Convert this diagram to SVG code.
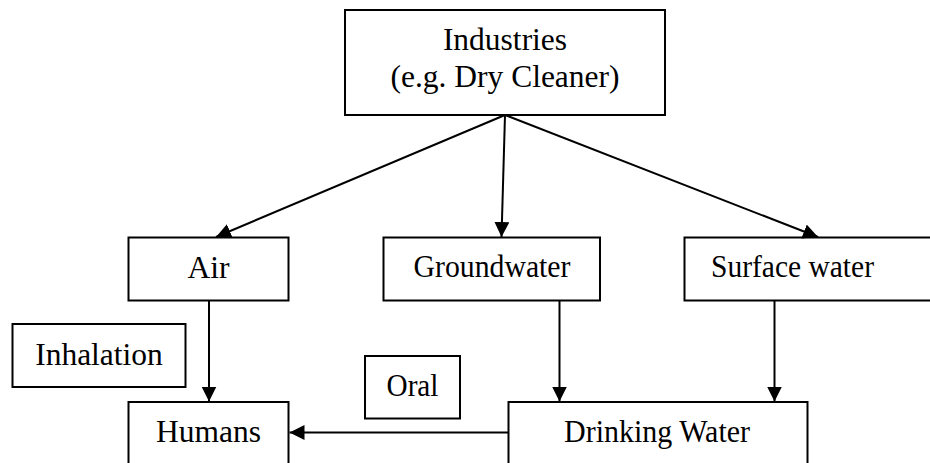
<svg xmlns="http://www.w3.org/2000/svg" width="930" height="463" viewBox="0 0 930 463">
  <style>
    .box { fill: #fff; stroke: #000; stroke-width: 2; }
    .lbl { font-family: "Liberation Serif", "Times New Roman", serif; font-size: 31.5px; fill: #000; text-anchor: middle; }
    .edge { fill: none; stroke: #000; stroke-width: 2; }
  </style>
  <defs>
    <marker id="arrow" markerWidth="15" markerHeight="15" refX="15" refY="7.5" orient="auto" markerUnits="userSpaceOnUse">
      <path d="M0,0 L15,7.5 L0,15 Z" fill="#000"/>
    </marker>
  </defs>
  <rect width="930" height="463" fill="#fff"/>

  <g id="industries">
    <rect class="box" x="345" y="10" width="320" height="105"/>
    <text class="lbl" x="505" y="50">Industries</text>
    <text class="lbl" x="505" y="87">(e.g. Dry Cleaner)</text>
  </g>

  <g id="air">
    <rect class="box" x="128.5" y="237.5" width="160" height="63"/>
    <text class="lbl" x="208.5" y="278">Air</text>
  </g>

  <g id="groundwater">
    <rect class="box" x="383.5" y="237.5" width="216.5" height="63"/>
    <text class="lbl" x="492" y="277" textLength="157" lengthAdjust="spacingAndGlyphs">Groundwater</text>
  </g>

  <g id="surface-water">
    <rect class="box" x="684.5" y="237.5" width="250" height="63"/>
    <text class="lbl" x="792.5" y="277" textLength="163" lengthAdjust="spacingAndGlyphs">Surface water</text>
  </g>

  <g id="inhalation">
    <rect class="box" x="12.5" y="324" width="173" height="63"/>
    <text class="lbl" x="99" y="365">Inhalation</text>
  </g>

  <g id="oral">
    <rect class="box" x="365" y="356" width="95" height="62.5"/>
    <text class="lbl" x="412.5" y="396" textLength="52" lengthAdjust="spacingAndGlyphs">Oral</text>
  </g>

  <g id="humans">
    <rect class="box" x="128.5" y="402" width="160" height="70"/>
    <text class="lbl" x="208.5" y="442">Humans</text>
  </g>

  <g id="drinking-water">
    <rect class="box" x="508.5" y="402" width="299" height="70"/>
    <text class="lbl" x="657" y="442" textLength="186" lengthAdjust="spacingAndGlyphs">Drinking Water</text>
  </g>

  <g id="connectors">
    <line class="edge" x1="505" y1="115" x2="216" y2="237" marker-end="url(#arrow)"/>
    <line class="edge" x1="505" y1="115" x2="501.5" y2="237" marker-end="url(#arrow)"/>
    <line class="edge" x1="505" y1="115" x2="818" y2="237" marker-end="url(#arrow)"/>
    <line class="edge" x1="209" y1="301" x2="209" y2="401.5" marker-end="url(#arrow)"/>
    <line class="edge" x1="559.5" y1="301" x2="559.5" y2="401.5" marker-end="url(#arrow)"/>
    <line class="edge" x1="774.5" y1="301" x2="774.5" y2="401.5" marker-end="url(#arrow)"/>
    <line class="edge" x1="508" y1="432.5" x2="289.5" y2="432.5" marker-end="url(#arrow)"/>
  </g>
</svg>
